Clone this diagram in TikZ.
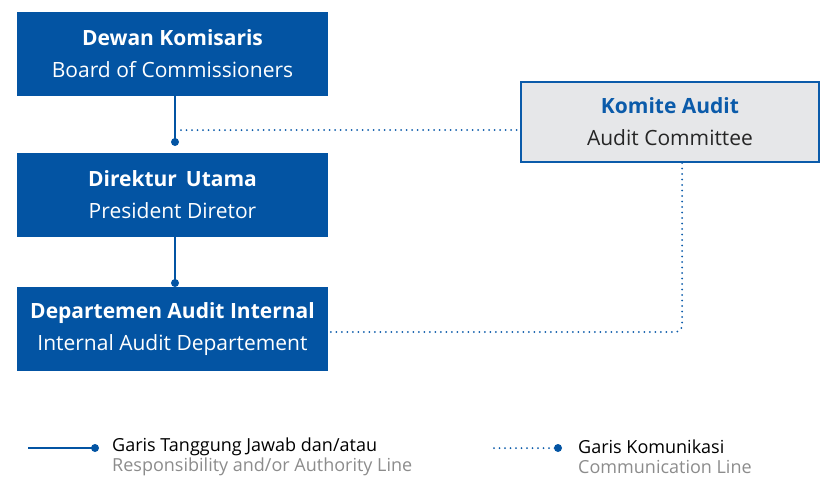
\documentclass[tikz,border=0pt]{standalone}
\usepackage{fontspec}
\setmainfont{Open Sans}
\usetikzlibrary{calc}
\definecolor{corpblue}{HTML}{0354A3}
\definecolor{lightgray}{HTML}{E6E7E9}
\definecolor{legendgray}{HTML}{8C8C8C}
\definecolor{titleblue}{HTML}{0B5BAA}
\tikzset{
  orgbox/.style={fill=corpblue, draw=none, minimum width=311pt, minimum height=84pt, inner sep=0pt, text=white, align=center, font=\fontsize{21}{32}\selectfont},
  auditbox/.style={fill=lightgray, draw=titleblue, line width=2pt, minimum width=298pt, minimum height=80pt, inner sep=0pt, align=center, font=\fontsize{21}{32}\selectfont},
  solidline/.style={draw=corpblue, line width=2pt},
  dotline/.style={draw=titleblue, line width=2pt, line cap=round, dash pattern=on 0pt off 5.5pt},
  enddot/.style={circle, fill=corpblue, inner sep=0pt, minimum size=8pt},
  legtext/.style={anchor=west, inner sep=0pt, font=\fontsize{18}{20}\selectfont},
}
\begin{document}
\begin{tikzpicture}[x=1pt,y=-1pt]
\useasboundingbox (0,0) rectangle (821,477);
\node[orgbox] (bod) at (172.5,54) {\textbf{Dewan Komisaris}\\Board of Commissioners};
\node[orgbox] (pd) at (172.5,195) {\textbf{Direktur\, Utama}\\President Diretor};
\node[orgbox] (iad) at (172.5,329) {\textbf{Departemen Audit Internal}\\Internal Audit Departement};
\node[auditbox] (ac) at (670,122) {\textcolor{titleblue}{\textbf{Komite Audit}}\\\textcolor{black!85}{Audit Committee}};
% solid lines
\node[enddot] (d1) at (175,142) {};
\node[enddot] (d2) at (175,283) {};
\draw[solidline] (bod.south -| d1) -- (d1.center);
\draw[solidline] (pd.south -| d2) -- (d2.center);
% dotted lines
\coordinate (j1) at (181,130);
\draw[dotline] (j1) -- (j1 -| ac.west);
\coordinate (c1) at (682,332);
\draw[dotline, rounded corners=7pt] (ac.south -| c1) -- (c1) -- (c1 -| iad.east);
% legend
\coordinate (l1a) at (28,448);
\node[enddot] (l1b) at (95,448) {};
\draw[solidline] (l1a) -- (l1b.center);
\node[legtext] (t1) at (112,447) {Garis Tanggung Jawab dan/atau};
\node[legtext, text=legendgray] (t2) at (112,467) {Responsibility and/or Authority Line};
\coordinate (l2a) at (494,448);
\node[enddot] (l2b) at (558,448) {};
\draw[dotline] (l2a) -- (l2b.center);
\node[legtext] (t3) at (578,447) {Garis Komunikasi};
\node[legtext, text=legendgray] (t4) at (578,467) {Communication Line};
\end{tikzpicture}
\end{document}
